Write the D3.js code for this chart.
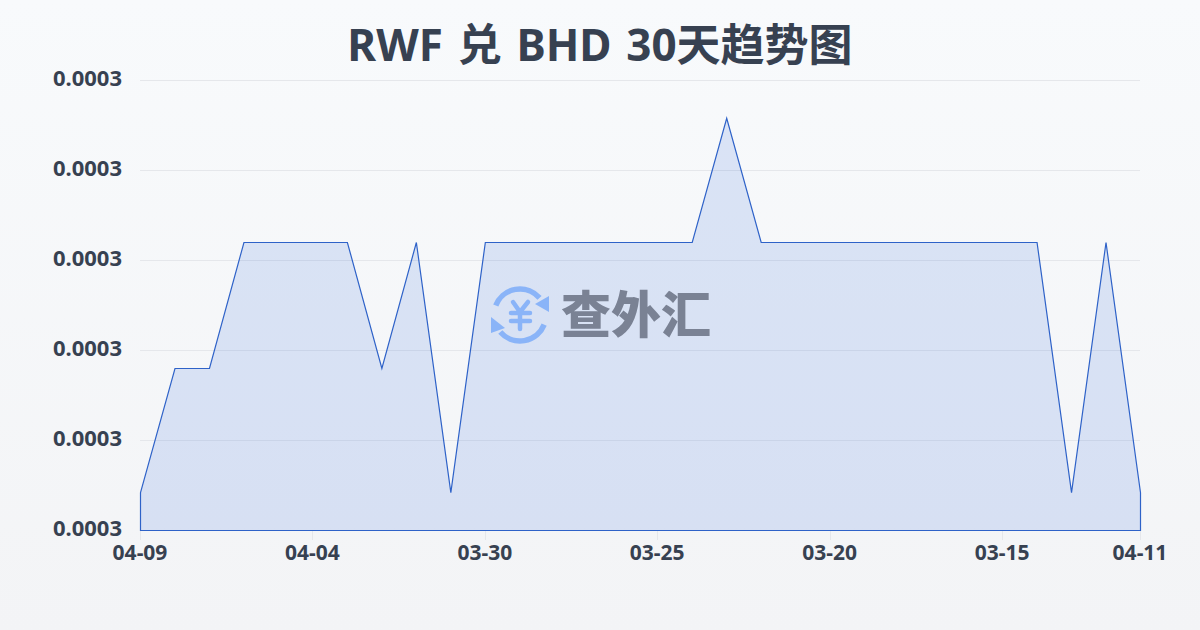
<!DOCTYPE html>
<html><head><meta charset="utf-8">
<style>html,body{margin:0;padding:0;width:1200px;height:630px;overflow:hidden}svg{display:block}</style>
<script src="https://cdn.jsdelivr.net/npm/d3@7"></script></head><body>
<script>
const titleText = "RWF 兑 BHD 30天趋势图";
const dates = ["04-09","04-08","04-07","04-06","04-05","04-04","04-03","04-02","04-01","03-31","03-30","03-29","03-28","03-27","03-26","03-25","03-24","03-23","03-22","03-21","03-20","03-19","03-18","03-17","03-16","03-15","03-14","03-13","03-12","04-11"];
const rates = [0.00029684,0.0002996,0.0002996,0.0003024,0.0003024,0.0003024,0.0003024,0.0002996,0.0003024,0.00029684,0.0003024,0.0003024,0.0003024,0.0003024,0.0003024,0.0003024,0.0003024,0.00030516,0.0003024,0.0003024,0.0003024,0.0003024,0.0003024,0.0003024,0.0003024,0.0003024,0.0003024,0.00029684,0.0003024,0.00029684];
const yTicks = [0.000296,0.000298,0.0003,0.000302,0.000304,0.000306];
const xTickDates = ["04-09","04-04","03-30","03-25","03-20","03-15","04-11"];
const logoText = "查外汇";

const W=1200,H=630,L=140,R=1140,T=80,B=530;
const svg=d3.select("body").append("svg").attr("width",W).attr("height",H);
const defs=svg.append("defs");
const bg=defs.append("linearGradient").attr("id","bg").attr("x1",0).attr("y1",0).attr("x2",0).attr("y2",1);
bg.append("stop").attr("offset",0).attr("stop-color","#f8fafc");
bg.append("stop").attr("offset",1).attr("stop-color","#f3f4f6");
svg.append("rect").attr("width",W).attr("height",H).attr("fill","url(#bg)");

const x=d3.scalePoint().domain(d3.range(dates.length)).range([L,R]);
const y=d3.scaleLinear().domain([yTicks[0],yTicks[yTicks.length-1]]).range([B,T]);

const axisFont="'Noto Sans',sans-serif";
const gy=svg.append("g");
gy.selectAll("line").data(yTicks).join("line")
 .attr("x1",L).attr("x2",R).attr("y1",d=>y(d)+.5).attr("y2",d=>y(d)+.5)
 .attr("stroke","#e5e7eb").attr("stroke-width",1);
gy.selectAll("text").data(yTicks).join("text")
 .attr("x",122).attr("y",d=>y(d)-2).attr("dy","0.35em").attr("text-anchor","end")
 .attr("font-family",axisFont).attr("font-weight",700).attr("font-size",22).attr("fill","#374151")
 .text(d=>d.toFixed(4));

const xIdx=xTickDates.map(d=>dates.indexOf(d));
const gx=svg.append("g");
gx.selectAll("line").data(xIdx).join("line")
 .attr("x1",i=>Math.round(x(i))+.5).attr("x2",i=>Math.round(x(i))+.5).attr("y1",B).attr("y2",B+10)
 .attr("stroke","#e5e7eb");
gx.selectAll("text").data(xIdx).join("text")
 .attr("x",i=>x(i)).attr("y",560).attr("text-anchor","middle")
 .attr("font-family",axisFont).attr("font-weight",700).attr("font-size",21).attr("fill","#374151")
 .text(i=>dates[i]);

const area=d3.area().x((d,i)=>x(i)+.5).y0(B+.5).y1(d=>y(d)+.5);
svg.append("path").datum(rates).attr("d",area).attr("fill","#2e66dc").attr("fill-opacity",0.14);
svg.append("path").datum(rates).attr("d",area).attr("fill","none").attr("stroke","#2e62c8").attr("stroke-width",1.2);

// logo
const logo=svg.append("g").attr("transform","translate(520,315)");
const blue="#8ab4f8";
logo.append("path").attr("fill","none").attr("stroke",blue).attr("stroke-width",5.5).attr("stroke-linecap","round")
 .attr("d",d3.arc()({innerRadius:26,outerRadius:26,startAngle:-1.2,endAngle:0.85}));
logo.append("path").attr("fill","none").attr("stroke",blue).attr("stroke-width",5.5).attr("stroke-linecap","round")
 .attr("d",d3.arc()({innerRadius:26,outerRadius:26,startAngle:1.95,endAngle:4.0}));
logo.append("path").attr("fill",blue).attr("d","M29 -19 L29 -3 L15 -11 Z");
logo.append("path").attr("fill",blue).attr("d","M-29 2 L-29 18 L-15 13 Z");
logo.append("path").attr("fill","none").attr("stroke",blue).attr("stroke-width",4.5).attr("stroke-linecap","round")
 .attr("d","M-7 -13 L0 -3 L8 -13 M0 -3 L0 14 M-9 -2 L10 -2 M-9 6 L10 6");
svg.append("text").attr("x",636).attr("y",333).attr("text-anchor","middle")
 .attr("font-family","'Noto Sans CJK SC'").attr("font-weight",900).attr("font-size",50).attr("fill","#7a8294")
 .text(logoText);

svg.append("text").attr("x",600).attr("y",61).attr("text-anchor","middle").attr("word-spacing",3.3)
 .attr("font-family","'Noto Sans','Noto Sans CJK SC',sans-serif").attr("font-weight",700).attr("font-size",44).attr("fill","#374151")
 .text(titleText);
</script></body></html>
